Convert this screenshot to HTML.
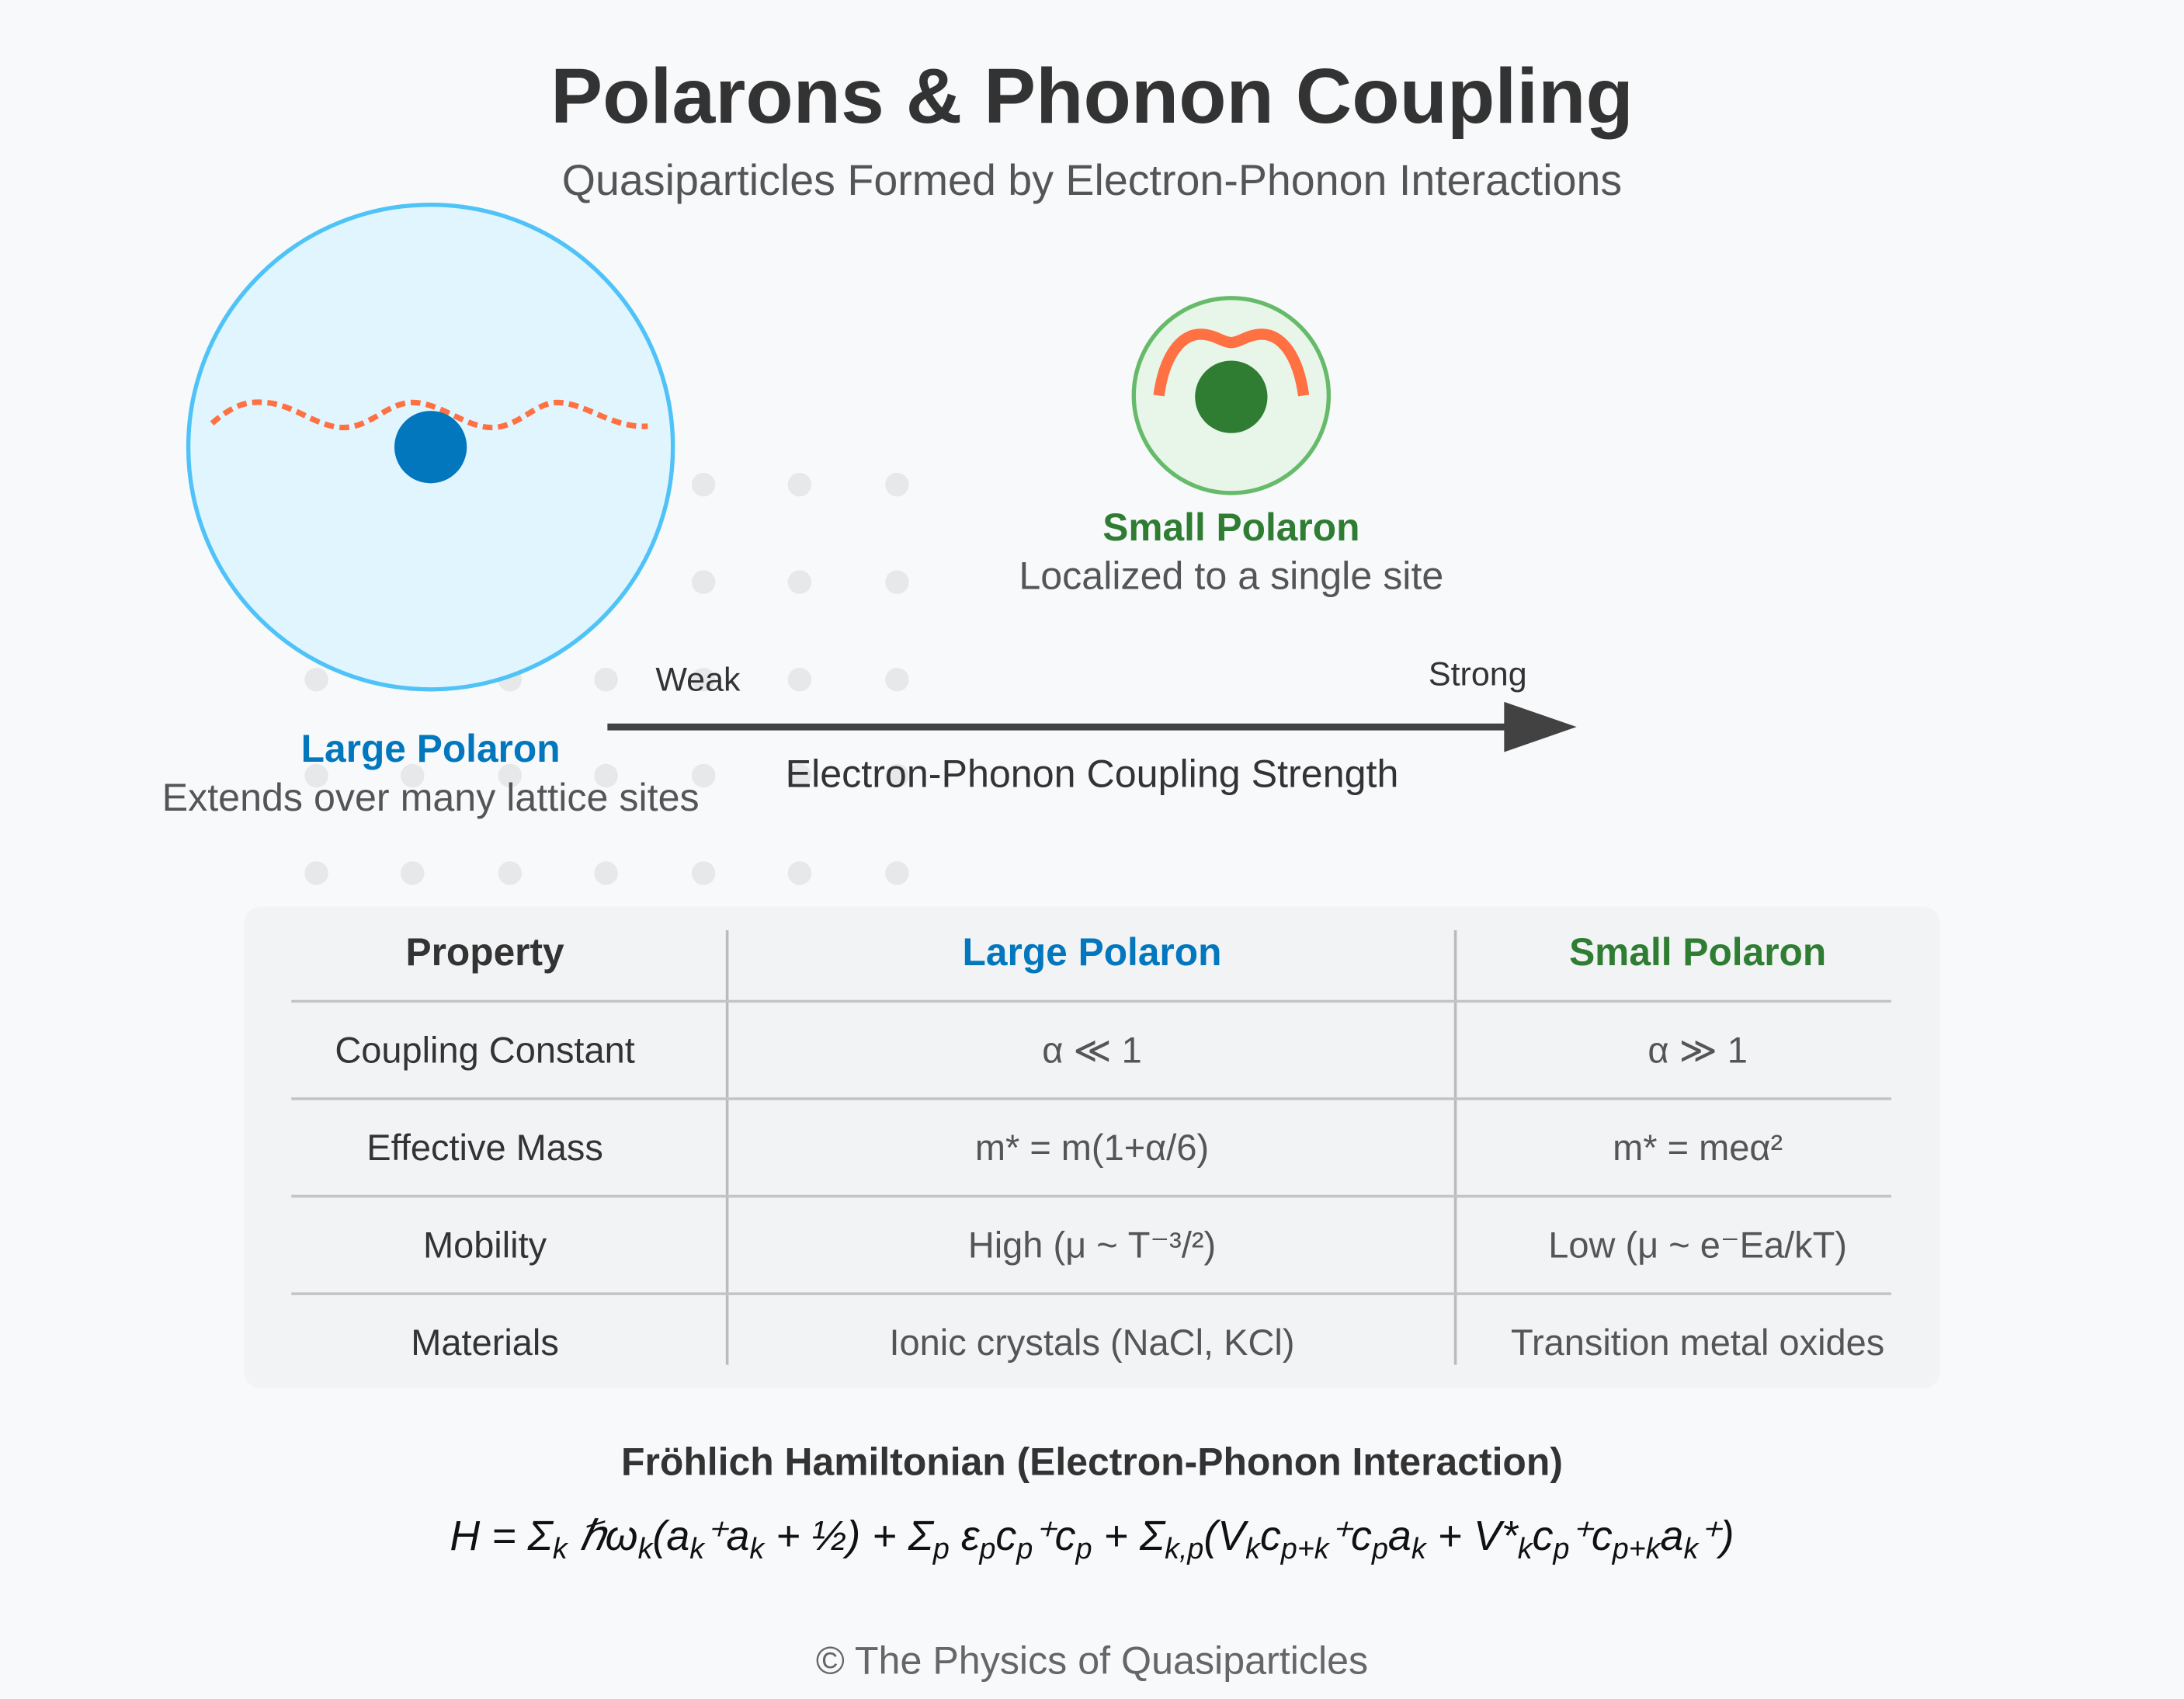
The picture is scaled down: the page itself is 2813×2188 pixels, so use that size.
<!DOCTYPE html>
<html><head><meta charset="utf-8"><style>
html,body{margin:0;padding:0;background:#f7f9fb;}
svg{display:block;}
text{font-family:"Liberation Sans",sans-serif;}
</style></head><body>
<svg width="2813" height="2188" viewBox="0 0 1568 1220" xmlns="http://www.w3.org/2000/svg">
<rect x="0" y="0" width="1568" height="1220" fill="#f7f9fb"/>
<text x="784" y="88" text-anchor="middle" font-size="56" font-weight="bold" fill="#333">Polarons &amp; Phonon Coupling</text>
<text x="784" y="140" text-anchor="middle" font-size="31" fill="#555">Quasiparticles Formed by Electron-Phonon Interactions</text>
<g id="dots" fill="#e6e8ea"></g>
<circle cx="309" cy="321" r="174" fill="#e1f5fe" stroke="#4fc3f7" stroke-width="3"/>
<path d="M152,304 C168,290 178,288 190,289 C210,290 228,307 246,307 C266,307 278,289 296,289 C316,289 334,307 353,307 C372,307 384,289 400,289 C420,289 440,308 465,306" fill="none" stroke="#ff7043" stroke-width="4" stroke-dasharray="7,4"/>
<circle cx="309" cy="321" r="26" fill="#0277bd"/>
<circle cx="884" cy="284" r="70" fill="#e8f5e9" stroke="#66bb6a" stroke-width="3"/>
<path d="M832,284 C836,255 848,240 862,240 C872,240 878,246 884,246 C890,246 896,240 906,240 C920,240 932,255 936,284" fill="none" stroke="#ff7043" stroke-width="8"/>
<circle cx="884" cy="285" r="26" fill="#2e7d32"/>
<text x="884" y="388" text-anchor="middle" font-size="27.7" font-weight="bold" fill="#2e7d32">Small Polaron</text>
<text x="884" y="423" text-anchor="middle" font-size="28" fill="#555">Localized to a single site</text>
<text x="309" y="547" text-anchor="middle" font-size="27.7" font-weight="bold" fill="#0277bd">Large Polaron</text>
<text x="309" y="582" text-anchor="middle" font-size="28" fill="#555">Extends over many lattice sites</text>
<line x1="436" y1="522" x2="1100" y2="522" stroke="#424242" stroke-width="5"/>
<polygon points="1080,504 1132,522 1080,540" fill="#424242"/>
<text x="501" y="496" text-anchor="middle" font-size="24" fill="#333">Weak</text>
<text x="1061" y="492" text-anchor="middle" font-size="24" fill="#333">Strong</text>
<text x="784" y="565" text-anchor="middle" font-size="28" fill="#333">Electron-Phonon Coupling Strength</text>
<g>
<rect x="175" y="651" width="1218" height="346" rx="12" fill="#f2f3f4"/>
<line x1="522" y1="668" x2="522" y2="980" stroke="#bbb" stroke-width="2"/>
<line x1="1045" y1="668" x2="1045" y2="980" stroke="#bbb" stroke-width="2"/>
<line x1="209" y1="719" x2="1358" y2="719" stroke="#c4c4c4" stroke-width="2"/>
<line x1="209" y1="789" x2="1358" y2="789" stroke="#c4c4c4" stroke-width="2"/>
<line x1="209" y1="859" x2="1358" y2="859" stroke="#c4c4c4" stroke-width="2"/>
<line x1="209" y1="929" x2="1358" y2="929" stroke="#c4c4c4" stroke-width="2"/>
<g font-size="27.7" font-weight="bold" text-anchor="middle">
<text x="348" y="693" fill="#333">Property</text>
<text x="784" y="693" fill="#0277bd">Large Polaron</text>
<text x="1219" y="693" fill="#2e7d32">Small Polaron</text>
</g>
<g font-size="26.2" text-anchor="middle">
<text x="348" y="763" fill="#333">Coupling Constant</text>
<text x="784" y="763" fill="#555">α ≪ 1</text>
<text x="1219" y="763" fill="#555">α ≫ 1</text>
<text x="348" y="833" fill="#333">Effective Mass</text>
<text x="784" y="833" fill="#555">m* = m(1+α/6)</text>
<text x="1219" y="833" fill="#555">m* = meα²</text>
<text x="348" y="903" fill="#333">Mobility</text>
<text x="784" y="903" fill="#555">High (μ ~ T⁻³/²)</text>
<text x="1219" y="903" fill="#555">Low (μ ~ e⁻Ea/kT)</text>
<text x="348" y="973" fill="#333">Materials</text>
<text x="784" y="973" fill="#555">Ionic crystals (NaCl, KCl)</text>
<text x="1219" y="973" fill="#555">Transition metal oxides</text>
</g>
</g>
<text x="784" y="1059" text-anchor="middle" font-size="27.8" font-weight="bold" fill="#333">Fröhlich Hamiltonian (Electron-Phonon Interaction)</text>
<text x="784" y="1113" text-anchor="middle" font-size="30" font-style="italic" fill="#111">H = Σ<tspan font-size="21" dy="6">k</tspan><tspan dy="-6"> ℏω</tspan><tspan font-size="21" dy="6">k</tspan><tspan dy="-6">(a</tspan><tspan font-size="21" dy="6">k</tspan><tspan dy="-6">⁺a</tspan><tspan font-size="21" dy="6">k</tspan><tspan dy="-6"> + ½) + Σ</tspan><tspan font-size="21" dy="6">p</tspan><tspan dy="-6"> ε</tspan><tspan font-size="21" dy="6">p</tspan><tspan dy="-6">c</tspan><tspan font-size="21" dy="6">p</tspan><tspan dy="-6">⁺c</tspan><tspan font-size="21" dy="6">p</tspan><tspan dy="-6"> + Σ</tspan><tspan font-size="21" dy="6">k,p</tspan><tspan dy="-6">(V</tspan><tspan font-size="21" dy="6">k</tspan><tspan dy="-6">c</tspan><tspan font-size="21" dy="6">p+k</tspan><tspan dy="-6">⁺c</tspan><tspan font-size="21" dy="6">p</tspan><tspan dy="-6">a</tspan><tspan font-size="21" dy="6">k</tspan><tspan dy="-6"> + V*</tspan><tspan font-size="21" dy="6">k</tspan><tspan dy="-6">c</tspan><tspan font-size="21" dy="6">p</tspan><tspan dy="-6">⁺c</tspan><tspan font-size="21" dy="6">p+k</tspan><tspan dy="-6">a</tspan><tspan font-size="21" dy="6">k</tspan><tspan dy="-6">⁺)</tspan></text>
<text x="784" y="1202" text-anchor="middle" font-size="28" fill="#666">© The Physics of Quasiparticles</text>
</svg>
<script>
const dotCols = [227, 296, 366, 435, 505, 574, 644];
const dotRows = [348, 418, 488, 557, 627];
const g = document.getElementById('dots');
dotRows.forEach(function (y) {
  dotCols.forEach(function (x) {
    const c = document.createElementNS('http://www.w3.org/2000/svg', 'circle');
    c.setAttribute('cx', x);
    c.setAttribute('cy', y);
    c.setAttribute('r', 8.5);
    
    
    g.appendChild(c);
  });
});
</script>
</body></html>
